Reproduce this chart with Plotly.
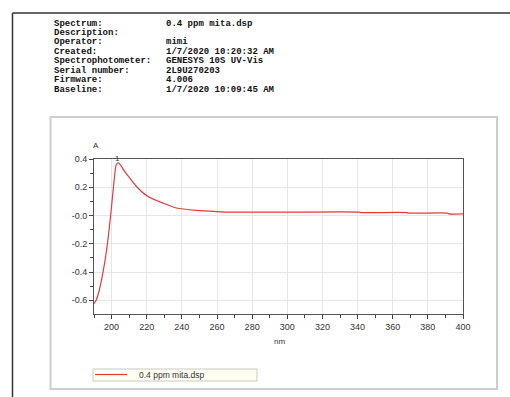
import plotly.graph_objects as go

# ---- data ----
wavelength_nm = [190, 191.2, 193, 196, 197.9, 199.8, 201.3, 202.7, 204, 205.5, 207.5, 210.3,
                 215, 220.7, 229.3, 236.9, 248.3, 259.7, 269, 300, 341, 342, 368, 369,
                 391, 392, 400]
absorbance = [-0.623, -0.600, -0.529, -0.339, -0.173, 0.041, 0.231, 0.361, 0.373, 0.349, 0.310, 0.266,
              0.195, 0.135, 0.088, 0.053, 0.036, 0.028, 0.024, 0.024, 0.024, 0.021, 0.021, 0.017,
              0.017, 0.011, 0.011]
series_name = "0.4 ppm mita.dsp"
peak_label = "1"
peak_nm = 204
peak_abs = 0.373

y_tickvals = [0.4, 0.2, 0.0, -0.2, -0.4, -0.6]
y_ticktext = ["0.4", "0.2", "-0.0", "-0.2", "-0.4", "-0.6"]
y_minor = [0.3, 0.1, -0.1, -0.3, -0.5]
x_tickvals = [200, 220, 240, 260, 280, 300, 320, 340, 360, 380, 400]
x_minor = [190, 210, 230, 250, 270, 290, 310, 330, 350, 370, 390]

header_labels = ["Spectrum:", "Description:", "Operator:", "Created:", "Spectrophotometer:",
                 "Serial number:", "Firmware:", "Baseline:"]
header_values = ["0.4 ppm mita.dsp", "", "mimi", "1/7/2020 10:20:32 AM", "GENESYS 10S UV-Vis",
                 "2L9U270203", "4.006", "1/7/2020 10:09:45 AM"]

# ---- layout geometry (pixels) ----
W, H = 510, 397
ML, MR, MT, MB = 94, 47, 159, 83
PW, PH = W - ML - MR, H - MT - MB


def px(x):
    return (x - ML) / PW


def py(y):
    return (H - MB - y) / PH


fig = go.Figure()
fig.add_trace(go.Scatter(x=wavelength_nm, y=absorbance, mode="lines", name=series_name,
                         line=dict(color="#e8383d", width=1.2, shape="spline", smoothing=0.6),
                         showlegend=False))

annotations = []
mono = dict(family="Liberation Mono, Courier New, monospace", size=9, color="#111")
for i, (lab, val) in enumerate(zip(header_labels, header_values)):
    yy = 23.5 + i * 9.45
    annotations.append(dict(x=px(51.5), y=py(yy), xref="paper", yref="paper", text="<b>%s</b>" % lab,
                            showarrow=False, xanchor="left", yanchor="middle", font=mono))
    if val:
        annotations.append(dict(x=px(163.5), y=py(yy), xref="paper", yref="paper", text="<b>%s</b>" % val,
                                showarrow=False, xanchor="left", yanchor="middle", font=mono))

sans = "Liberation Sans, Arial, sans-serif"
annotations.append(dict(x=px(96), y=py(146), xref="paper", yref="paper", text="A", showarrow=False,
                        xanchor="center", yanchor="middle", font=dict(family=sans, size=8, color="#333")))
annotations.append(dict(x=px(279), y=py(341), xref="paper", yref="paper", text="nm", showarrow=False,
                        xanchor="center", yanchor="middle", font=dict(family=sans, size=8, color="#333")))
annotations.append(dict(x=peak_nm - 0.7, y=peak_abs, xref="x", yref="y", text=peak_label, showarrow=False,
                        yanchor="bottom", yshift=-2, font=dict(family=sans, size=8, color="#333")))
# legend text
annotations.append(dict(x=px(137), y=py(375), xref="paper", yref="paper", text=series_name, showarrow=False,
                        xanchor="left", yanchor="middle", font=dict(family=sans, size=8.5, color="#333")))

shapes = [
    # page border (top and left)
    dict(type="line", xref="paper", yref="paper", x0=px(12.5), y0=py(13), x1=px(510), y1=py(13),
         line=dict(color="#333", width=1.5)),
    dict(type="line", xref="paper", yref="paper", x0=px(12.5), y0=py(13), x1=px(12.5), y1=py(397),
         line=dict(color="#333", width=1.5)),
    # chart frame
    dict(type="rect", xref="paper", yref="paper", x0=px(50.5), y0=py(117), x1=px(497), y1=py(389),
         line=dict(color="#cdcdcd", width=2), layer="below"),
    # legend box
    dict(type="rect", xref="paper", yref="paper", x0=px(93), y0=py(369), x1=px(257), y1=py(381),
         fillcolor="#fffff2", line=dict(color="#c8c8c0", width=1), layer="above"),
    dict(type="line", xref="paper", yref="paper", x0=px(95), y0=py(374.5), x1=px(127), y1=py(374.5),
         line=dict(color="#e8383d", width=1.2)),
]

axis_common = dict(showline=True, linecolor="#555", linewidth=1, mirror=True,
                   gridcolor="#e6e6e6", gridwidth=1, ticks="outside", ticklen=4, tickcolor="#444",
                   tickfont=dict(family=sans, size=9, color="#333"), zeroline=False)

fig.update_layout(
    width=W, height=H,
    margin=dict(l=ML, r=MR, t=MT, b=MB, pad=0),
    paper_bgcolor="white", plot_bgcolor="white",
    xaxis=dict(range=[190, 400], tickmode="array", tickvals=x_tickvals,
               minor=dict(tickmode="array", tickvals=x_minor, ticks="outside", ticklen=3,
                          tickcolor="#444", showgrid=False),
               **axis_common),
    yaxis=dict(range=[-0.697, 0.4], tickmode="array", tickvals=y_tickvals, ticktext=y_ticktext,
               minor=dict(tickmode="array", tickvals=y_minor, ticks="outside", ticklen=3,
                          tickcolor="#444", showgrid=False),
               **axis_common),
    annotations=annotations,
    shapes=shapes,
    showlegend=False,
)

fig.write_html("out.html", config={"displayModeBar": False},
               post_script="document.body.style.margin='0';document.body.style.overflow='hidden';")
